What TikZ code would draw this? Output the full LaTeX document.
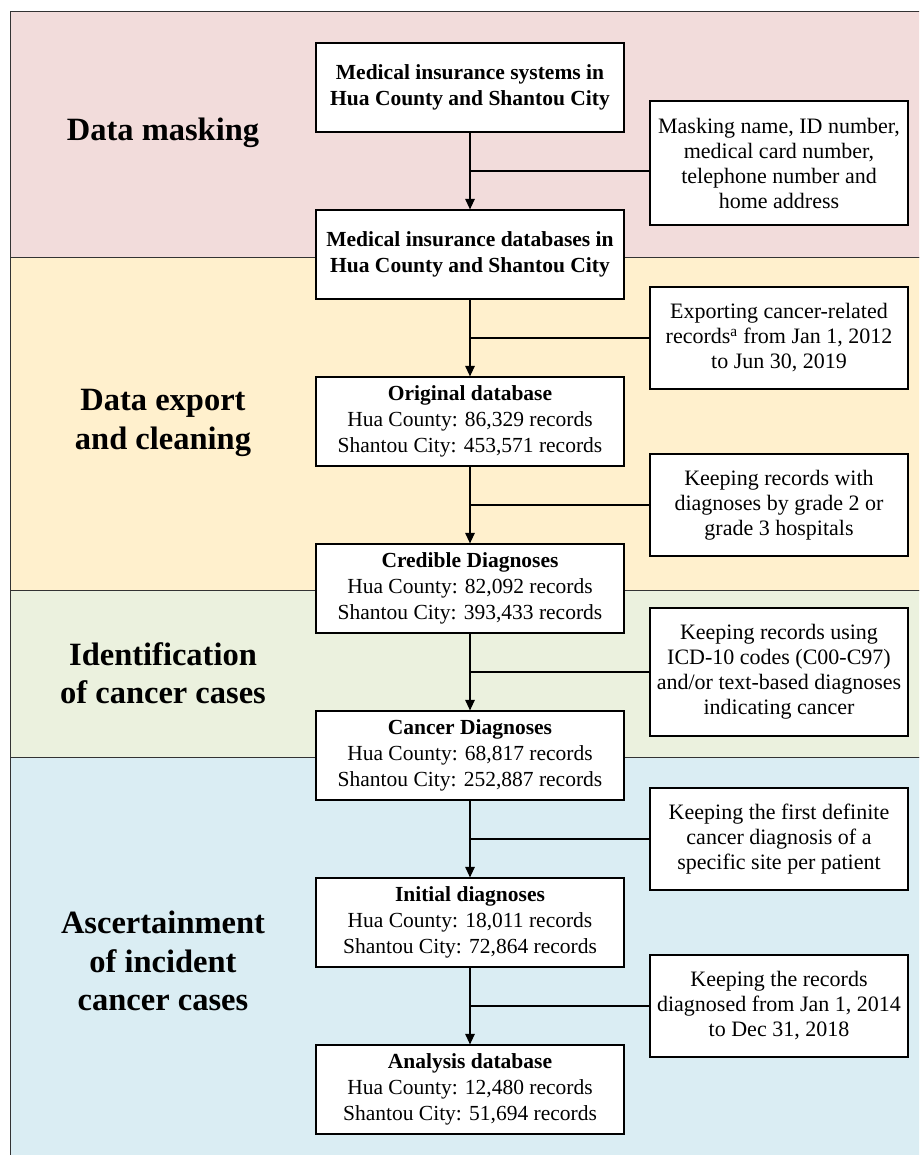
\documentclass[tikz,border=0pt]{standalone}
\usepackage{fontspec}
\setmainfont{Liberation Serif}
\usetikzlibrary{arrows.meta}
\definecolor{bandA}{HTML}{F2DCDB}
\definecolor{bandB}{HTML}{FFF0CD}
\definecolor{bandC}{HTML}{EBF1DE}
\definecolor{bandD}{HTML}{DAEDF3}
\definecolor{bandline}{HTML}{333333}
\begin{document}
\begin{tikzpicture}[x=1pt,y=-1pt,
  band/.style={draw=bandline, line width=1pt},
  mainbox/.style={draw, fill=white, line width=1.2pt, minimum width=308pt, minimum height=89pt,
    align=center, inner sep=0pt, font=\fontsize{21.5}{25.8}\selectfont},
  sidebox/.style={draw, fill=white, line width=1.2pt, minimum width=258pt,
    align=center, inner sep=0pt, font=\fontsize{22}{25}\selectfont},
  stagelabel/.style={align=center, font=\bfseries\fontsize{32.5}{38.5}\selectfont},
  flow/.style={line width=1.2pt, -{Triangle[length=10.5pt,width=9.5pt]}},
  branch/.style={line width=1.2pt}]
\useasboundingbox (0,0) rectangle (919,1155);
\clip (0,0) rectangle (919,1155);
% bands
\fill[white] (0,0) rectangle (919,1155);
\draw[band, fill=bandA] (10,12) rectangle (940,258);
\draw[band, fill=bandB] (10,258) rectangle (940,590);
\draw[band, fill=bandC] (10,590) rectangle (940,757);
\draw[band, fill=bandD] (10,757) rectangle (940,1170);
% stage labels
\node[stagelabel] (l1) at (163,133) {Data masking};
\node[stagelabel] (l2) at (163,423) {Data export\\and cleaning};
\node[stagelabel] (l3) at (163,673) {Identification\\of cancer cases};
\node[stagelabel] (l4) at (163,961) {Ascertainment\\of incident\\cancer cases};
% main boxes
\node[mainbox] (m1) at (470,87.5) {\textbf{Medical insurance systems in}\\\textbf{Hua County and Shantou City}};
\node[mainbox] (m2) at (470,254.5) {\textbf{Medical insurance databases in}\\\textbf{Hua County and Shantou City}};
\node[mainbox] (m3) at (470,421.5) {\textbf{Original database}\\Hua County: 86,329 records\\Shantou City: 453,571 records};
\node[mainbox] (m4) at (470,588.5) {\textbf{Credible Diagnoses}\\Hua County: 82,092 records\\Shantou City: 393,433 records};
\node[mainbox] (m5) at (470,755.5) {\textbf{Cancer Diagnoses}\\Hua County: 68,817 records\\Shantou City: 252,887 records};
\node[mainbox] (m6) at (470,922.5) {\textbf{Initial diagnoses}\\Hua County: 18,011 records\\Shantou City: 72,864 records};
\node[mainbox] (m7) at (470,1089.5) {\textbf{Analysis database}\\Hua County: 12,480 records\\Shantou City: 51,694 records};
% side boxes
\node[sidebox, minimum height=124pt] (s1) at (779,163) {Masking name, ID number,\\medical card number,\\telephone number and\\home address};
\node[sidebox, minimum height=102pt] (s2) at (779,338) {Exporting cancer-related\\records\textsuperscript{a} from Jan 1, 2012\\to Jun 30, 2019};
\node[sidebox, minimum height=102pt] (s3) at (779,505) {Keeping records with\\diagnoses by grade 2 or\\grade 3 hospitals};
\node[sidebox, minimum height=128pt] (s4) at (779,672) {Keeping records using\\ICD-10 codes (C00-C97)\\and/or text-based diagnoses\\indicating cancer};
\node[sidebox, minimum height=102pt] (s5) at (779,839) {Keeping the first definite\\cancer diagnosis of a\\specific site per patient};
\node[sidebox, minimum height=102pt] (s6) at (779,1006) {Keeping the records\\diagnosed from Jan 1, 2014\\to Dec 31, 2018};
% junctions
\coordinate (j1) at (470,171);
\coordinate (j2) at (470,338);
\coordinate (j3) at (470,505);
\coordinate (j4) at (470,672);
\coordinate (j5) at (470,839);
\coordinate (j6) at (470,1006);
% flow arrows
\draw[flow] (m1) -- (m2);
\draw[flow] (m2) -- (m3);
\draw[flow] (m3) -- (m4);
\draw[flow] (m4) -- (m5);
\draw[flow] (m5) -- (m6);
\draw[flow] (m6) -- (m7);
% branches
\foreach \i in {1,...,6} {
  \draw[branch] (s\i.west |- j\i) -- (j\i);
}
\end{tikzpicture}
\end{document}
